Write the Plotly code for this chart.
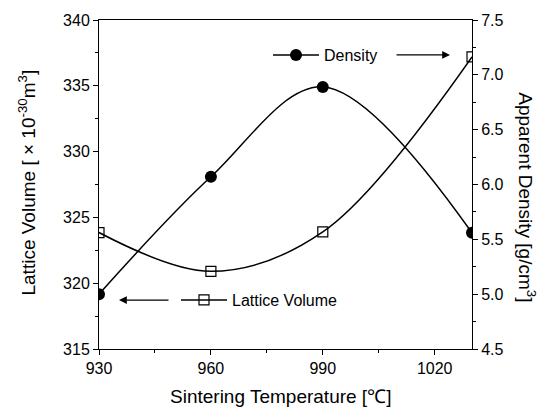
import plotly.graph_objects as go

# ---- data ----
temperature = [930, 960, 990, 1030]
lattice_volume = [323.85, 320.9, 323.9, 337.2]          # left axis (×10^-30 m^3)
apparent_density = [5.0, 6.07, 6.89, 5.56]              # right axis (g/cm^3)
x_tick_vals = [930, 960, 990, 1020]
y1_tick_vals = [315, 320, 325, 330, 335, 340]
y2_tick_vals = [4.5, 5.0, 5.5, 6.0, 6.5, 7.0, 7.5]

FONT = "Arial, Liberation Sans, Helvetica, sans-serif"
W, H = 547, 411
L, R, T, B = 99, 75, 15, 62

fig = go.Figure()

fig.add_trace(go.Scatter(
    x=temperature, y=apparent_density, name="Density", yaxis="y2",
    mode="lines+markers", line=dict(color="black", width=1.5, shape="spline", smoothing=1.0),
    marker=dict(symbol="circle", size=12, color="black"),
    legend="legend",
))
fig.add_trace(go.Scatter(
    x=temperature, y=lattice_volume, name="Lattice Volume", yaxis="y",
    mode="lines+markers", line=dict(color="black", width=1.5, shape="spline", smoothing=1.0),
    marker=dict(symbol="square-open", size=10, color="black", line=dict(width=1.2)),
    legend="legend2",
))

axis_common = dict(
    showgrid=False, zeroline=False, showline=True, linecolor="black", linewidth=1,
    ticks="outside", ticklen=5, tickwidth=1, tickcolor="black",
    tickfont=dict(family=FONT, size=16, color="black"),
)

fig.update_layout(
    width=W, height=H,
    margin=dict(l=L, r=R, t=T, b=B, pad=0),
    paper_bgcolor="white", plot_bgcolor="white",
    font=dict(family=FONT, color="black"),
    xaxis=dict(range=[930, 1030], tickvals=x_tick_vals, mirror=True,
               minor=dict(dtick=15, tick0=930, ticks="outside", ticklen=3, tickcolor="black"),
               **axis_common),
    yaxis=dict(range=[315, 340], tickvals=y1_tick_vals,
               minor=dict(dtick=2.5, tick0=315, ticks="outside", ticklen=3, tickcolor="black"),
               **axis_common),
    yaxis2=dict(range=[4.5, 7.5], tickvals=y2_tick_vals, tickformat=".1f",
                overlaying="y", side="right",
                minor=dict(dtick=0.25, tick0=4.5, ticks="outside", ticklen=3, tickcolor="black"),
                **axis_common),
    legend=dict(x=(268 - L) / (W - L - R), y=(H - B - 50.7) / (H - T - B),
                xanchor="left", yanchor="middle", bgcolor="rgba(0,0,0,0)",
                font=dict(family=FONT, size=16, color="black"), itemwidth=46,
                borderwidth=0),
    legend2=dict(x=(176 - L) / (W - L - R), y=(H - B - 299.3) / (H - T - B),
                 xanchor="left", yanchor="middle", bgcolor="rgba(0,0,0,0)",
                 font=dict(family=FONT, size=16, color="black"), itemwidth=46,
                 borderwidth=0),
    showlegend=True,
)

pw, ph = W - L - R, H - T - B
def px(x):
    return (x - L) / pw
def py(y):
    return (H - B - y) / ph

annotations = [
    # arrows
    dict(x=px(450), y=py(50.5), xref="paper", yref="paper", text="", showarrow=True,
         ax=-55, ay=0, arrowhead=2, arrowsize=1.3, arrowwidth=1.2, arrowcolor="black"),
    dict(x=px(119), y=py(299.3), xref="paper", yref="paper", text="", showarrow=True,
         ax=51, ay=0, arrowhead=2, arrowsize=1.3, arrowwidth=1.2, arrowcolor="black"),
    # axis titles
    dict(x=px(280), y=py(397), xref="paper", yref="paper", showarrow=False,
         text="Sintering Temperature [℃]", font=dict(family=FONT, size=19, color="black"),
         xanchor="center", yanchor="middle"),
    dict(x=px(27), y=py(180), xref="paper", yref="paper", showarrow=False, textangle=-90,
         text="Lattice Volume [ × 10<sup>-30</sup>m<sup>3</sup>]",
         font=dict(family=FONT, size=19, color="black"), xanchor="center", yanchor="middle"),
    dict(x=px(527), y=py(195), xref="paper", yref="paper", showarrow=False, textangle=90,
         text="Apparent Density [g/cm<sup>3</sup>]",
         font=dict(family=FONT, size=19, color="black"), xanchor="center", yanchor="middle"),
]
fig.update_layout(annotations=annotations)

fig.write_html("out.html")
